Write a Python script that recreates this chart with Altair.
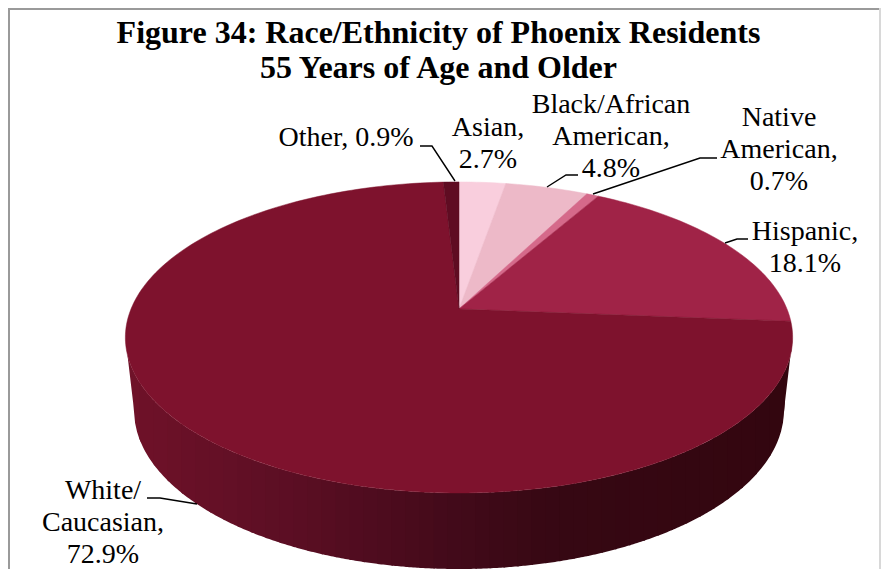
import math
import altair as alt
import pandas as pd

# ---- chart values ----
categories = ["Asian", "Black/African American", "Native American", "Hispanic", "White/Caucasian", "Other"]
shares = [2.7, 4.8, 0.7, 18.1, 72.9, 0.9]
slice_colors = ["#F9CEDD", "#EDB9C8", "#D5698A", "#A02347", "#7E122D", "#5F0C22"]
label_texts = ["Asian,\n2.7%", "Black/African\nAmerican,\n4.8%", "Native\nAmerican,\n0.7%",
               "Hispanic,\n18.1%", "White/\nCaucasian,\n72.9%", "Other, 0.9%"]
title_lines = ["Figure 34: Race/Ethnicity of Phoenix Residents", "55 Years of Age and Older"]

# ---- layout (page pixels minus the 8px margin) ----
OFF = 8
label_x = [488, 611, 779, 805, 103, 346]
label_y = [136, 113, 126, 240, 499, 146]
leaders = [
    [(420, 146), (432, 146), (455, 181)],
    [(547, 187), (566, 175), (578, 175)],
    [(593, 194), (700, 158), (717, 158)],
    [(725, 243), (737, 239), (748, 239)],
    [(147, 498), (160, 498), (197, 504)],
]
APEX = (459, 309)
R, S, K = 328, 150.3, 0.183           # perspective of the pie's top face
TOP_RIM = (459, 337.5, 333.6, 155.5)  # cx, cy, rx, ry
BOT_RIM = (459, 410, 325, 159)
wall_stops_x = [126, 300, 450, 560, 793]
wall_stops_c = ["#701229", "#5A0E23", "#430A1A", "#360813", "#33060F"]
STRIP = 14
OVERLAP = 1.5


def face(frac):
    a = 2 * math.pi * frac
    u, v = math.sin(a), math.cos(a)
    w = 1 + K * v
    return [APEX[0] + R * u / w - OFF, APEX[1] - S * v / w - OFF]


def upper(x):
    c = (x - TOP_RIM[0]) / TOP_RIM[2]
    return TOP_RIM[1] + TOP_RIM[3] * math.sqrt(max(0.0, 1 - c * c))


def lower(x):
    c = (x - BOT_RIM[0]) / BOT_RIM[2]
    if abs(c) <= 1:
        return BOT_RIM[1] + BOT_RIM[3] * math.sqrt(1 - c * c)
    over = (abs(x - BOT_RIM[0]) - BOT_RIM[2]) / (TOP_RIM[2] - BOT_RIM[2])
    return BOT_RIM[1] + (TOP_RIM[1] - BOT_RIM[1]) * min(1.0, over)


def feature(ring, **props):
    return {"type": "Feature", "properties": props,
            "geometry": {"type": "Polygon", "coordinates": [ring + [ring[0]]]}}


# wall: vertical bands between the two rims, each one lapping under the next
wall = []
x0 = TOP_RIM[0] - TOP_RIM[2]
x_end = TOP_RIM[0] + TOP_RIM[2]
while x0 < x_end:
    x1 = min(x0 + STRIP + OVERLAP, x_end)
    n = 8
    xs = [x0 + (x1 - x0) * j / n for j in range(n + 1)]
    ring = [[x - OFF, upper(x) - OFF] for x in xs] + [[x - OFF, lower(x) - OFF] for x in reversed(xs)]
    wall.append(feature(ring, shade=x0 + STRIP / 2))
    x0 += STRIP

# top-face slices
total = sum(shares)
top, cum = [], 0.0
for name, share in zip(categories, shares):
    steps = max(3, int(share * 3))
    pts = [face((cum + share * j / steps) / total) for j in range(steps + 1)]
    top.append(feature([[APEX[0] - OFF, APEX[1] - OFF]] + pts, name=name))
    cum += share

W, H = 873, 561
proj = dict(type="identity", scale=1, translate=[0, 0])
px_x = alt.Scale(domain=[0, W], range=[0, W])
px_y = alt.Scale(domain=[0, H], range=[0, H])
wall_scale = alt.Scale(domain=wall_stops_x, range=wall_stops_c)
top_scale = alt.Scale(domain=categories, range=slice_colors)

wall_layer = alt.Chart(alt.Data(values=wall)).mark_geoshape(strokeWidth=0).encode(
    color=alt.Color("properties.shade:Q", legend=None, scale=wall_scale),
).project(**proj)

top_layer = alt.Chart(alt.Data(values=top)).mark_geoshape(strokeWidth=0.5).encode(
    color=alt.Color("properties.name:N", legend=None, scale=top_scale),
    stroke=alt.Color("properties.name:N", legend=None, scale=top_scale),
).project(**proj)

leader_df = pd.DataFrame([
    {"id": i, "o": j, "x": p[0] - OFF, "y": p[1] - OFF}
    for i, line in enumerate(leaders) for j, p in enumerate(line)
])
leader_layer = alt.Chart(leader_df).mark_line(color="#000000", strokeWidth=1.4).encode(
    x=alt.X("x:Q", scale=px_x, axis=None),
    y=alt.Y("y:Q", scale=px_y, axis=None),
    detail="id:N", order="o:Q",
)

label_df = pd.DataFrame({"t": label_texts, "x": [v - OFF for v in label_x], "y": [v - OFF for v in label_y]})
label_layer = alt.Chart(label_df).mark_text(
    font="Liberation Serif", fontSize=28, color="#000000", align="center",
    baseline="alphabetic", lineBreak="\n", lineHeight=32,
).encode(
    x=alt.X("x:Q", scale=px_x, axis=None),
    y=alt.Y("y:Q", scale=px_y, axis=None),
    text="t:N",
)

border_col = "#9A9A9A"
one = pd.DataFrame({"a": [0]})
border = [
    alt.Chart(one).mark_rule(color=border_col, strokeWidth=2).encode(
        x=alt.value(1), y=alt.value(0), y2=alt.value(H)),
    alt.Chart(one).mark_rule(color=border_col, strokeWidth=2).encode(
        x=alt.value(0), x2=alt.value(W), y=alt.value(1)),
    alt.Chart(one).mark_rule(color="#D8D8D8", strokeWidth=2).encode(
        x=alt.value(W - 1), y=alt.value(0), y2=alt.value(H)),
]

chart = alt.layer(wall_layer, top_layer, leader_layer, label_layer, *border).resolve_scale(
    color="independent", stroke="independent"
).properties(
    width=W, height=H, padding=0,
    autosize=alt.AutoSizeParams(type="none"),
    title=alt.TitleParams(
        text=title_lines, font="Liberation Serif", fontSize=32, fontWeight="bold",
        color="#000000", lineHeight=35, anchor="middle", align="center", offset=0,
        baseline="alphabetic", dy=103, dx=-6,
    ),
).configure_view(stroke=None, clip=False)

chart.save("out.html", embed_options={"renderer": "svg", "actions": False})
